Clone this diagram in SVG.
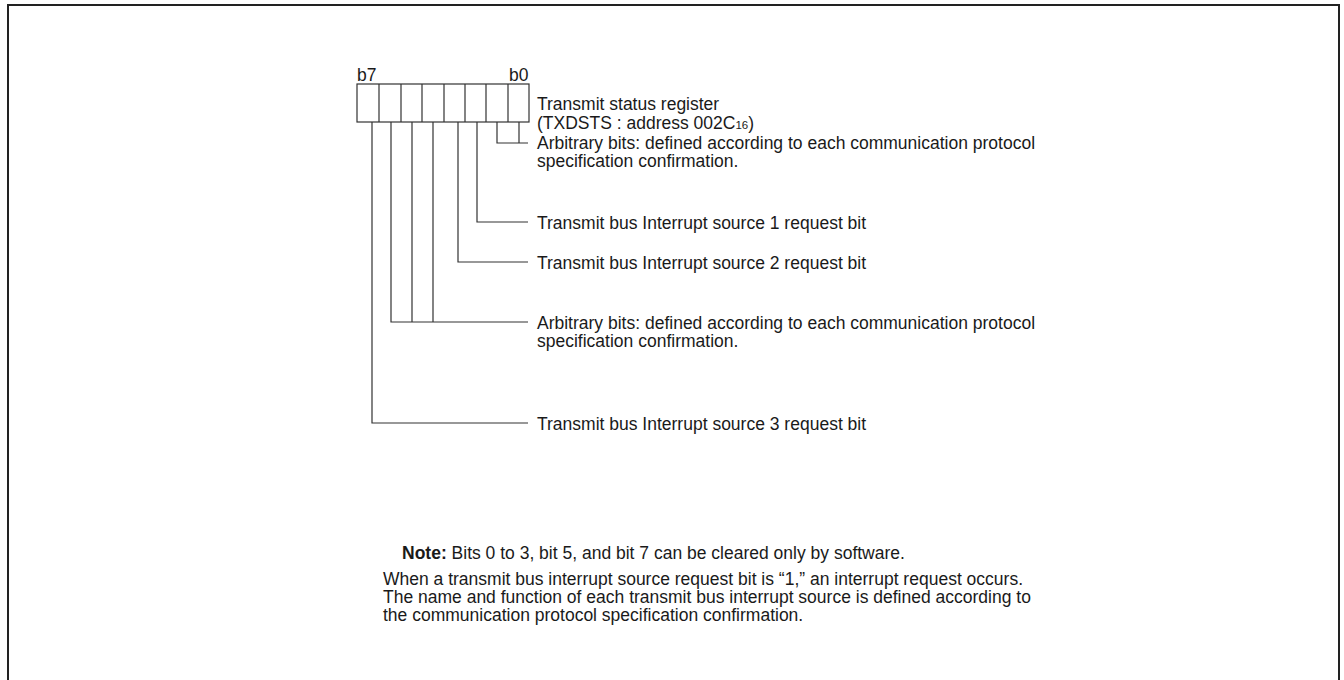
<svg xmlns="http://www.w3.org/2000/svg" width="1344" height="680" viewBox="0 0 1344 680">
<style>
text{font-family:"Liberation Sans",Arial,sans-serif;font-size:17.5px;fill:#1a1a1a}
.ln{stroke:#333;stroke-width:1.2;fill:none}
.cell{stroke:#333;stroke-width:1.2;fill:#fff}
.frame{stroke:#222;stroke-width:2;fill:none}
</style>
<rect class="frame" x="8" y="5" width="1331" height="690"/>
<g id="register">
<rect class="cell" x="357" y="84" width="172" height="38"/>
<path class="ln" d="M379,84V122M401,84V122M422,84V122M444,84V122M465,84V122M486,84V122M508,84V122"/>
<text x="357" y="81">b7</text>
<text x="509" y="81">b0</text>
<text x="537" y="110">Transmit status register</text>
<text x="537" y="129">(TXDSTS : address 002C<tspan font-size="11.5">16</tspan>)</text>
</g>
<g id="connectors">
<path class="ln" d="M519,122V143M497,122V143H528"/>
<path class="ln" d="M477,122V222H528"/>
<path class="ln" d="M458,122V262H528"/>
<path class="ln" d="M433,122V322M412,122V322M391,122V322H528"/>
<path class="ln" d="M372,122V423H528"/>
</g>
<g id="label-b0b1">
<text x="537" y="149">Arbitrary bits: defined according to each communication protocol</text>
<text x="537" y="167">specification confirmation.</text>
</g>
<g id="label-b2"><text x="537" y="228.5">Transmit bus Interrupt source 1 request bit</text></g>
<g id="label-b3"><text x="537" y="268.5">Transmit bus Interrupt source 2 request bit</text></g>
<g id="label-b4b6">
<text x="537" y="328.5">Arbitrary bits: defined according to each communication protocol</text>
<text x="537" y="346.5">specification confirmation.</text>
</g>
<g id="label-b7"><text x="537" y="429.5">Transmit bus Interrupt source 3 request bit</text></g>
<g id="note">
<text x="402" y="559"><tspan font-weight="bold">Note:</tspan> Bits 0 to 3, bit 5, and bit 7 can be cleared only by software.</text>
<text x="383" y="585">When a transmit bus interrupt source request bit is “1,” an interrupt request occurs.</text>
<text x="383" y="603">The name and function of each transmit bus interrupt source is defined according to</text>
<text x="383" y="621">the communication protocol specification confirmation.</text>
</g>
</svg>
